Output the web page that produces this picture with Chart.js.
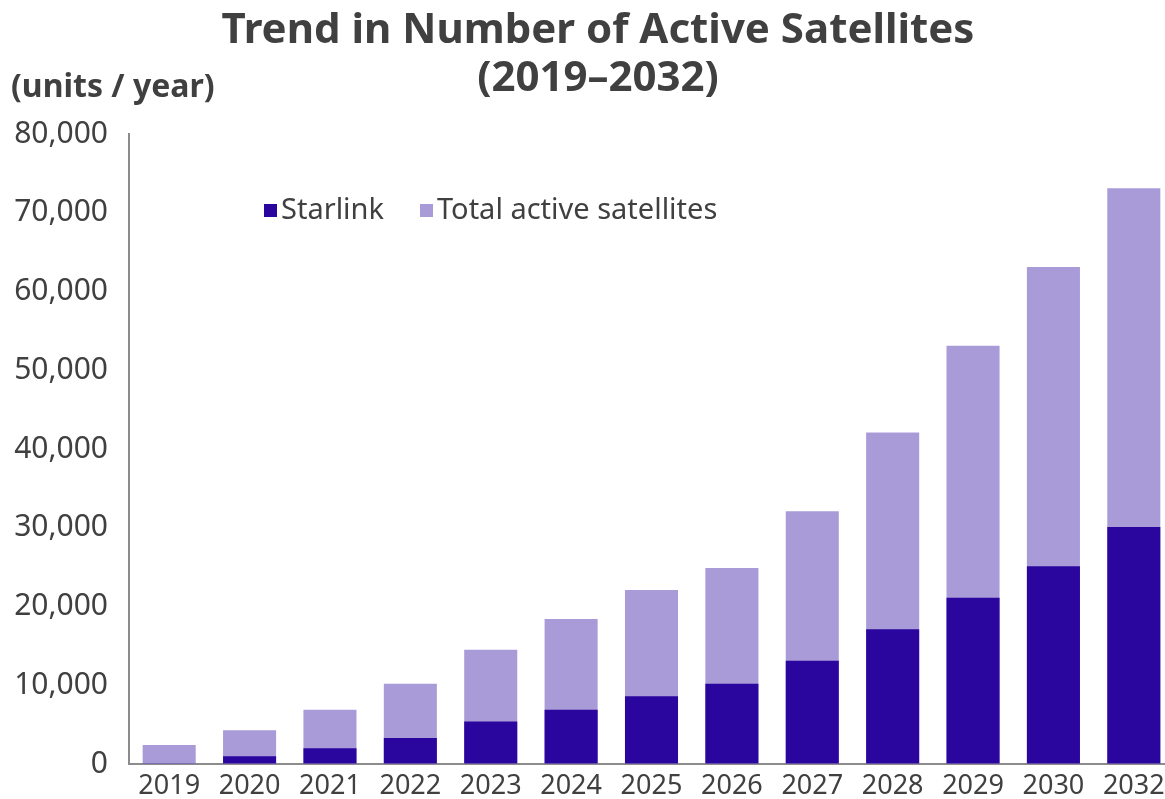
<!DOCTYPE html>
<html>
<head>
<meta charset="utf-8">
<script src="https://cdn.jsdelivr.net/npm/chart.js@4"></script>
<style>
  html, body { margin: 0; padding: 0; background: #fff; overflow: hidden; }
  #wrap { width: 1165px; height: 799px; overflow: hidden; }
</style>
</head>
<body>
<div id="wrap"><canvas id="satChart" width="1174" height="799"></canvas></div>
<script>
// Data
const years = ['2019', '2020', '2021', '2022', '2023', '2024', '2025', '2026', '2027', '2028', '2029', '2030', '2032'];
const starlink = [100, 1000, 2000, 3300, 5400, 6900, 8600, 10200, 13100, 17100, 21100, 25100, 30100];
const totalActive = [2400, 4300, 6900, 10200, 14500, 18400, 22100, 24900, 32100, 42100, 53100, 63100, 73100];
const yTicks = [0, 10000, 20000, 30000, 40000, 50000, 60000, 70000, 80000];

const FONT = "'Noto Sans', 'DejaVu Sans', sans-serif";
const TEXT = '#404040';
const CLEAR = 'rgba(0,0,0,0)';

// Title, unit label and the legend inside the plot
const extras = {
    id: 'extras',
    afterDraw(chart) {
        const ctx = chart.ctx;
        ctx.save();
        ctx.fillStyle = TEXT;
        ctx.textBaseline = 'middle';

        ctx.textAlign = 'center';
        ctx.font = 'bold 42px ' + FONT;
        ctx.fillText('Trend in Number of Active Satellites', 598, 31);
        ctx.fillText('(2019\u20132032)', 598, 79);

        ctx.textAlign = 'left';
        ctx.font = 'bold 32px ' + FONT;
        ctx.fillText('(units / year)', 11, 88);

        let x = 264;
        const y = 211;
        ctx.font = '29px ' + FONT;
        chart.data.datasets.forEach(ds => {
            ctx.fillStyle = ds.backgroundColor;
            ctx.fillRect(x, y - 7, 13, 13);
            ctx.fillStyle = TEXT;
            ctx.fillText(ds.label, x + 17, y);
            x += 17 + ctx.measureText(ds.label).width + 36;
        });
        ctx.restore();
    }
};

new Chart(document.getElementById('satChart'), {
    type: 'bar',
    data: {
        labels: years,
        datasets: [
            { label: 'Starlink', data: starlink, backgroundColor: '#2a069f' },
            { label: 'Total active satellites', data: totalActive, backgroundColor: '#a99bd8' }
        ]
    },
    options: {
        responsive: false,
        animation: false,
        layout: { padding: { left: 0, right: 0, top: 134, bottom: 0 } },
        datasets: { bar: { barPercentage: 0.66, categoryPercentage: 1 } },
        plugins: {
            legend: { display: false },
            tooltip: { enabled: false },
            title: { display: false }
        },
        scales: {
            x: {
                stacked: true,
                grid: { display: false, drawTicks: false },
                border: { display: true, color: '#8c8c8c', width: 2 },
                afterFit: axis => { axis.height = 35; },
                ticks: { color: TEXT, font: { family: FONT, size: 27, lineHeight: 1 }, padding: 9, maxRotation: 0 }
            },
            y: {
                stacked: false,
                min: 0,
                max: 80000,
                // invisible tick marks keep the labels 21px off the axis
                grid: { display: true, drawOnChartArea: false, drawTicks: true, tickLength: 21, color: CLEAR, tickColor: CLEAR },
                border: { display: true, color: '#8c8c8c', width: 2 },
                afterFit: axis => { axis.width = 129; },
                afterBuildTicks: axis => { axis.ticks = yTicks.map(v => ({ value: v })); },
                ticks: {
                    color: TEXT,
                    font: { family: FONT, size: 30 },
                    padding: 0,
                    callback: v => v.toLocaleString('en-US')
                }
            }
        }
    },
    plugins: [extras]
});
</script>
</body>
</html>
